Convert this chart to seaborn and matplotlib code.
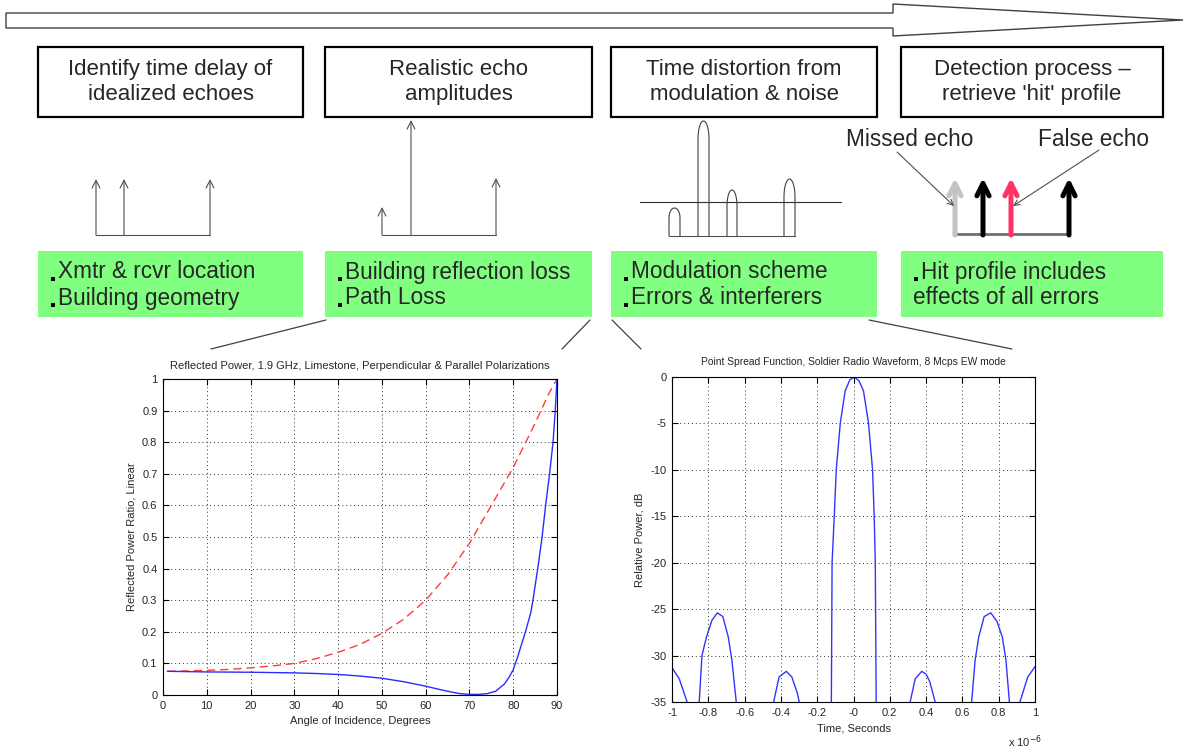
import numpy as np
import pandas as pd
import seaborn as sns
import matplotlib.pyplot as plt
from matplotlib.patches import Rectangle, Polygon

sns.set_theme(style='white')
plt.rcParams['font.family'] = ['Liberation Sans', 'DejaVu Sans']
plt.rcParams['axes.unicode_minus'] = False

# ---- process steps (top row) ----
step_titles = ['Identify time delay of\nidealized echoes',
               'Realistic echo\namplitudes',
               'Time distortion from\nmodulation & noise',
               "Detection process \u2013\nretrieve 'hit' profile"]
step_notes = [['Xmtr & rcvr location', 'Building geometry'],
              ['Building reflection loss', 'Path Loss'],
              ['Modulation scheme', 'Errors & interferers'],
              ['Hit profile includes', 'effects of all errors']]
note_bullets = [[True, True], [True, True], [True, True], [True, False]]

# ---- schematic echoes (diagram pixels) ----
ideal_x = [96, 124, 210]
ideal_top = [179, 179, 179]
ampl_x = [382, 411, 496]
ampl_top = [207, 120, 178]
pulse_left = [669, 698, 727, 784]
pulse_right = [680, 709, 737, 795]
pulse_top = [208, 121, 190, 179]
hit_x = [955, 983, 1011, 1069]
hit_colors = ['#c3c3c3', 'black', '#ff3366', 'black']

# ---- reflected power vs angle ----
angle_perp = [1, 5, 10, 15, 20, 25, 30, 35, 40, 45, 50, 55, 60, 65, 70, 75, 80, 85, 88, 90]
refl_perp = [0.075, 0.076, 0.078, 0.081, 0.086, 0.092, 0.100, 0.115, 0.135, 0.160,
             0.195, 0.240, 0.300, 0.380, 0.480, 0.600, 0.720, 0.860, 0.950, 1.0]
angle_par = [1, 10, 20, 30, 35, 40, 45, 50, 55, 60, 63, 66, 68, 70, 72, 74, 76, 78, 79, 80,
             80.5, 81, 82, 82.8, 84, 84.5, 85.6, 86.6, 87.4, 88.3, 89.1, 89.6, 90]
refl_par = [0.075, 0.073, 0.072, 0.070, 0.068, 0.065, 0.060, 0.053, 0.042, 0.028, 0.018,
            0.009, 0.004, 0.002, 0.002, 0.004, 0.012, 0.035, 0.055, 0.080, 0.100, 0.120,
            0.165, 0.200, 0.260, 0.300, 0.400, 0.500, 0.600, 0.700, 0.800, 0.900, 1.0]

# ---- point spread function (time in microseconds) ----
psf_t = [-1.0, -0.96, -0.917, -0.88, -0.85, -0.835, -0.81, -0.78, -0.75, -0.72, -0.69, -0.67,
         -0.646, -0.55, -0.44, -0.41, -0.37, -0.34, -0.31, -0.299, -0.2, -0.122, -0.118,
         -0.106, -0.095, -0.073, -0.046, -0.02, 0.005, 0.03, 0.055, 0.083, 0.105, 0.114, 0.12,
         0.125, 0.2, 0.312, 0.34, 0.376, 0.40, 0.42, 0.45, 0.55, 0.651, 0.67, 0.69, 0.72,
         0.756, 0.79, 0.82, 0.84, 0.859, 0.89, 0.917, 0.96, 1.0]
psf_db = [-31.3, -32.5, -35, -45, -35, -30, -28, -26.2, -25.4, -25.8, -28, -30.5,
          -35, -50, -35, -32.3, -31.7, -32.3, -34, -35, -50, -35, -20,
          -15, -10, -5, -1.5, -0.3, 0, -0.4, -1.5, -5, -10, -15, -20,
          -35, -50, -35, -32.5, -31.7, -32.0, -32.8, -35, -50, -35, -30.5, -28, -25.8,
          -25.4, -26.3, -28, -30.5, -35, -45, -35, -32.3, -31.2]

fig = plt.figure(figsize=(11.86, 7.49), dpi=100)
dg = fig.add_axes([0, 0, 1, 1], zorder=0)
dg.set_xlim(0, 1186)
dg.set_ylim(749, 0)
dg.axis('off')

# big process arrow
dg.add_patch(Polygon([(6, 13), (893, 13), (893, 4), (1183, 20), (893, 36), (893, 28), (6, 28)],
                     closed=True, fc='white', ec='#404040', lw=1))

box_l = [38, 325, 611, 901]
box_r = [303, 592, 877, 1163]
for i in range(4):
    dg.add_patch(Rectangle((box_l[i], 47), box_r[i] - box_l[i], 70, fc='white', ec='black', lw=1.6))
    dg.text((box_l[i] + box_r[i]) / 2, 82, step_titles[i], ha='center', va='center',
            fontsize=16, linespacing=1.2)
    dg.add_patch(Rectangle((box_l[i], 251), box_r[i] - box_l[i], 66, fc='#80ff80', ec='none'))
    for j, line in enumerate(step_notes[i]):
        y = 272 + j * 26
        if note_bullets[i][j]:
            dg.plot(box_l[i] + 15, y + 7, 's', color='black', ms=2.3, mew=0)
            dg.text(box_l[i] + 20, y, line, ha='left', va='center', fontsize=16.3)
        else:
            dg.text(box_l[i] + 12, y, line, ha='left', va='center', fontsize=16.3)

thin = dict(arrowstyle='->', color='#505050', lw=0.8, mutation_scale=14, shrinkA=0, shrinkB=0)
# idealized echoes
dg.plot([ideal_x[0], ideal_x[-1]], [235, 235], color='#505050', lw=0.8)
for x, t in zip(ideal_x, ideal_top):
    dg.annotate('', xy=(x, t), xytext=(x, 235), arrowprops=thin)
# realistic amplitudes
dg.plot([ampl_x[0], ampl_x[-1]], [235, 235], color='#505050', lw=0.8)
for x, t in zip(ampl_x, ampl_top):
    dg.annotate('', xy=(x, t), xytext=(x, 235), arrowprops=thin)
# distorted pulses
dg.plot([640, 841], [202, 202], color='#303030', lw=0.8)
dg.plot([pulse_left[0], pulse_right[-1]], [236, 236], color='#505050', lw=0.8)
for l, r, t in zip(pulse_left, pulse_right, pulse_top):
    rx = (r - l) / 2
    ry = min(18, (236 - t) * 0.35)
    th = np.linspace(np.pi, 0, 30)
    xs = np.concatenate([[l], (l + r) / 2 + rx * np.cos(th), [r]])
    ys = np.concatenate([[236], t + ry - ry * np.sin(th), [236]])
    dg.plot(xs, ys, color='#404040', lw=0.8)
# hit profile
dg.plot([hit_x[0], hit_x[-1]], [234, 234], color='#707070', lw=2)
for x, c in zip(hit_x, hit_colors):
    dg.annotate('', xy=(x, 178), xytext=(x, 235),
                arrowprops=dict(arrowstyle='->', color=c, lw=3.6, mutation_scale=22,
                                shrinkA=0, shrinkB=0))
dg.text(910, 140, 'Missed echo', ha='center', va='center', fontsize=16.3)
dg.text(1093, 140, 'False echo', ha='center', va='center', fontsize=16.3)
small = dict(arrowstyle='->', color='#505050', lw=0.8, mutation_scale=10, shrinkA=0, shrinkB=0)
dg.annotate('', xy=(954, 206), xytext=(897, 152), arrowprops=small)
dg.annotate('', xy=(1013, 206), xytext=(1099, 150), arrowprops=small)

# connectors to the plots
for (x0, y0, x1, y1) in [(326, 320, 211, 349), (590, 320, 562, 349), (612, 320, 641, 349), (869, 320, 1012, 349)]:
    dg.plot([x0, x1], [y0, y1], color='#404040', lw=0.9)


def style_axes(ax):
    ax.grid(True, linestyle=(0, (1, 3)), color='#333333', lw=0.7)
    ax.tick_params(direction='in', top=True, right=True, bottom=True, left=True,
                   length=4, width=0.8, color='black', labelsize=8, pad=4)
    for s in ax.spines.values():
        s.set_color('black')
        s.set_linewidth(0.8)
        s.set_visible(True)


# left plot
ax1 = fig.add_axes([163 / 1186, 1 - 695 / 749, 394 / 1186, 316 / 749])
sns.lineplot(x=angle_perp, y=refl_perp, ax=ax1, color='#ff3c3c', linestyle=(0, (6, 3.5)), lw=1, errorbar=None)
sns.lineplot(x=angle_par, y=refl_par, ax=ax1, color='#2b2bff', lw=1, errorbar=None)
ax1.set_xlim(0, 90)
ax1.set_ylim(0, 1)
ax1.set_xticks(range(0, 91, 10))
ax1.set_yticks(np.round(np.arange(0, 1.01, 0.1), 1))
ax1.set_yticklabels(['0'] + ['%.1f' % v for v in np.arange(0.1, 0.95, 0.1)] + ['1'])
style_axes(ax1)
ax1.set_title('Reflected Power, 1.9 GHz, Limestone, Perpendicular & Parallel Polarizations',
              fontsize=8, pad=7)
ax1.set_xlabel('Angle of Incidence, Degrees', fontsize=8)
ax1.set_ylabel('Reflected Power Ratio, Linear', fontsize=8)

# right plot
ax2 = fig.add_axes([672 / 1186, 1 - 702 / 749, 363 / 1186, 325 / 749])
sns.lineplot(x=psf_t, y=psf_db, ax=ax2, color='#3333ff', lw=1, errorbar=None)
ax2.set_xlim(-1, 1)
ax2.set_ylim(-35, 0)
xt = np.round(np.arange(-1, 1.01, 0.2), 1)
ax2.set_xticks(xt)
ax2.set_xticklabels(['%g' % v for v in xt])
ax2.set_yticks(range(-35, 1, 5))
style_axes(ax2)
ax2.set_title('Point Spread Function, Soldier Radio Waveform, 8 Mcps EW mode', fontsize=7.4, pad=9)
ax2.set_xlabel('Time, Seconds', fontsize=8)
ax2.set_ylabel('Relative Power, dB', fontsize=8)
dg.text(1008, 742, r'x 10$^{-6}$', ha='left', va='center', fontsize=8)

fig.savefig('out.png', dpi=100)
